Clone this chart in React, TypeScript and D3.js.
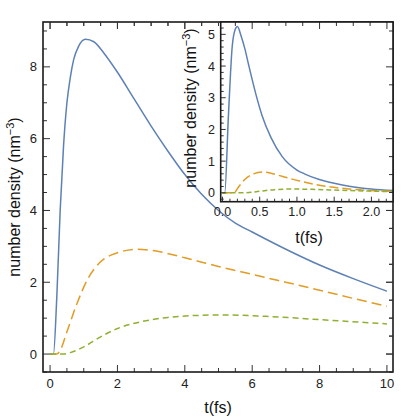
import React from "react";
import * as d3 from "d3";

// Main plot data
const mainBlueX = [0, 0.1, 0.2, 0.3, 0.4, 0.5, 0.6, 0.7, 0.85, 1.05, 1.3, 1.6, 2, 2.5, 3, 3.5, 4, 4.5, 5, 5.5, 6, 7, 8, 9, 10];
const mainBlueY = [0, 0, 1.6, 4.0, 5.8, 7.0, 7.7, 8.2, 8.58, 8.77, 8.7, 8.38, 7.85, 7.1, 6.35, 5.65, 5.0, 4.45, 4.0, 3.65, 3.4, 2.92, 2.48, 2.1, 1.75];
const mainOrangeX = [0, 0.2, 0.3, 0.5, 0.8, 1.1, 1.5, 2, 2.6, 3.3, 4, 4.5, 5, 6, 7, 8, 9, 10];
const mainOrangeY = [0, 0, 0.1, 0.62, 1.41, 2.06, 2.57, 2.82, 2.92, 2.84, 2.68, 2.56, 2.44, 2.22, 2.0, 1.78, 1.55, 1.33];
const mainGreenX = [0, 0.4, 0.6, 1, 1.5, 2, 2.7, 3.5, 4.5, 5.2, 6.4, 8, 10];
const mainGreenY = [0, 0, 0.04, 0.2, 0.48, 0.71, 0.9, 1.02, 1.08, 1.09, 1.05, 0.96, 0.84];

// Inset data
const insetBlueX = [0, 0.03, 0.08, 0.13, 0.17, 0.2, 0.25, 0.3, 0.35, 0.45, 0.53, 0.65, 0.8, 1.0, 1.1, 1.3, 1.5, 1.7, 2.0, 2.4];
const insetBlueY = [0, 0, 2.45, 4.6, 5.15, 5.25, 4.95, 4.55, 4.05, 3.1, 2.45, 1.75, 1.15, 0.72, 0.6, 0.42, 0.3, 0.21, 0.12, 0.06];
const insetOrangeX = [0, 0.15, 0.22, 0.3, 0.4, 0.53, 0.65, 0.8, 1.04, 1.3, 1.7, 2.4];
const insetOrangeY = [0, 0, 0.2, 0.42, 0.58, 0.66, 0.62, 0.52, 0.37, 0.24, 0.12, 0.04];
const insetGreenX = [0, 0.3, 0.5, 0.7, 0.9, 1.2, 1.6, 2.4];
const insetGreenY = [0, 0, 0.05, 0.1, 0.12, 0.11, 0.08, 0.03];

const mainXTicks = [0, 2, 4, 6, 8, 10];
const mainYTicks = [0, 2, 4, 6, 8];
const insetXTicks = [0, 0.5, 1, 1.5, 2];
const insetYTicks = [0, 1, 2, 3, 4, 5];

const BLUE = "#5E81B5";
const ORANGE = "#E19C24";
const GREEN = "#8FB032";
const FONT = "Liberation Sans, Arial, sans-serif";

const zip = (xs: number[], ys: number[]) => xs.map((x, i) => [x, ys[i]] as [number, number]);
const range = (a: number, b: number, s: number) => {
  const r: number[] = [];
  for (let v = a; v <= b + 1e-9; v += s) r.push(Math.round(v * 1000) / 1000);
  return r;
};

export default function App() {
  // main frame
  const L = 43, R = 393, T = 22, B = 372;
  const x = d3.scaleLinear().domain([-0.21, 10.18]).range([L, R]);
  const y = d3.scaleLinear().domain([-0.5, 9.25]).range([B, T]);
  // inset frame
  const iL = 220.7, iR = 393, iT = 22, iB = 201.7;
  const ix = d3.scaleLinear().domain([-0.024, 2.29]).range([iL, iR]);
  const iy = d3.scaleLinear().domain([-0.28, 5.39]).range([iB, iT]);

  const line = (sx: any, sy: any) =>
    d3.line<[number, number]>().x((d) => sx(d[0])).y((d) => sy(d[1])).curve(d3.curveMonotoneX);
  const ml = line(x, y);
  const il = line(ix, iy);

  const mainMinorX = range(0, 10, 0.5).filter((v) => !mainXTicks.includes(v));
  const mainMinorY = range(-0.5, 9, 0.5).filter((v) => !mainYTicks.includes(v));
  const insetMinorX = range(0, 2.2, 0.1).filter((v) => !insetXTicks.includes(v));
  const insetMinorY = range(-0.2, 5.2, 0.2).filter((v) => !insetYTicks.includes(v));

  const axisColor = "#1a1a1a";
  const tickColor = "#333";

  return (
    <svg width={417} height={417} style={{ position: "absolute", left: 0, top: 0 }} fontFamily={FONT}>
      <rect x={0} y={0} width={417} height={417} fill="white" />
      <defs>
        <clipPath id="mainClip">
          <rect x={L} y={T} width={R - L} height={B - T} />
        </clipPath>
        <clipPath id="insetClip">
          <rect x={iL} y={iT} width={iR - iL} height={iB - iT} />
        </clipPath>
      </defs>

      {/* main curves */}
      <g clipPath="url(#mainClip)" fill="none" strokeWidth={1.5}>
        <path d={ml(zip(mainBlueX, mainBlueY)) || ""} stroke={BLUE} />
        <path d={ml(zip(mainOrangeX, mainOrangeY)) || ""} stroke={ORANGE} strokeDasharray="10,5" />
        <path d={ml(zip(mainGreenX, mainGreenY)) || ""} stroke={GREEN} strokeDasharray="6,4" />
      </g>

      {/* main ticks */}
      <g stroke={tickColor} strokeWidth={1}>
        {mainXTicks.map((t) => (
          <g key={"mx" + t}>
            <line x1={x(t)} x2={x(t)} y1={B} y2={B - 7} />
            <line x1={x(t)} x2={x(t)} y1={T} y2={T + 7} />
          </g>
        ))}
        {mainMinorX.map((t) => (
          <g key={"mmx" + t}>
            <line x1={x(t)} x2={x(t)} y1={B} y2={B - 4} />
            <line x1={x(t)} x2={x(t)} y1={T} y2={T + 4} />
          </g>
        ))}
        {mainYTicks.map((t) => (
          <g key={"my" + t}>
            <line x1={L} x2={L + 7} y1={y(t)} y2={y(t)} />
            <line x1={R} x2={R - 7} y1={y(t)} y2={y(t)} />
          </g>
        ))}
        {mainMinorY.map((t) => (
          <g key={"mmy" + t}>
            <line x1={L} x2={L + 4} y1={y(t)} y2={y(t)} />
            <line x1={R} x2={R - 4} y1={y(t)} y2={y(t)} />
          </g>
        ))}
      </g>
      <rect x={L} y={T} width={R - L} height={B - T} fill="none" stroke={axisColor} strokeWidth={1.6} />

      {/* main tick labels */}
      <g fontSize={13} fill="#222">
        {mainXTicks.map((t) => (
          <text key={"mxl" + t} x={x(t)} y={388} textAnchor="middle">
            {t}
          </text>
        ))}
        {mainYTicks.map((t) => (
          <text key={"myl" + t} x={37} y={y(t) + 4.5} textAnchor="end">
            {t}
          </text>
        ))}
      </g>

      {/* main axis titles */}
      <text x={218} y={413} fontSize={16} textAnchor="middle" fill="#111">
        t(fs)
      </text>
      <text transform="translate(20,197) rotate(-90)" fontSize={16} textAnchor="middle" fill="#111">
        number density (nm<tspan dy={-6} fontSize={11}>−3</tspan>
        <tspan dy={6}>)</tspan>
      </text>

      {/* inset */}
      <rect x={iL} y={iT} width={iR - iL} height={iB - iT} fill="white" />
      <g clipPath="url(#insetClip)" fill="none" strokeWidth={1.5}>
        <path d={il(zip(insetBlueX, insetBlueY)) || ""} stroke={BLUE} />
        <path d={il(zip(insetOrangeX, insetOrangeY)) || ""} stroke={ORANGE} strokeDasharray="9,4" />
        <path d={il(zip(insetGreenX, insetGreenY)) || ""} stroke={GREEN} strokeDasharray="5,3" />
      </g>
      <g stroke={tickColor} strokeWidth={1}>
        {insetXTicks.map((t) => (
          <line key={"ix" + t} x1={ix(t)} x2={ix(t)} y1={iB} y2={iB - 5} />
        ))}
        {insetMinorX.map((t) => (
          <line key={"imx" + t} x1={ix(t)} x2={ix(t)} y1={iB} y2={iB - 3} />
        ))}
        {insetYTicks.map((t) => (
          <line key={"iy" + t} x1={iL} x2={iL + 5} y1={iy(t)} y2={iy(t)} />
        ))}
        {insetMinorY.map((t) => (
          <line key={"imy" + t} x1={iL} x2={iL + 3} y1={iy(t)} y2={iy(t)} />
        ))}
        {/* right ticks of main y continue on shared frame */}
        {mainYTicks.map((t) => (
          <line key={"ry" + t} x1={R} x2={R - 7} y1={y(t)} y2={y(t)} />
        ))}
        {mainMinorY.map((t) => (
          <line key={"rmy" + t} x1={R} x2={R - 4} y1={y(t)} y2={y(t)} />
        ))}
        {mainXTicks.map((t) => (
          <line key={"tx" + t} x1={x(t)} x2={x(t)} y1={T} y2={T + 7} />
        ))}
        {mainMinorX.map((t) => (
          <line key={"tmx" + t} x1={x(t)} x2={x(t)} y1={T} y2={T + 4} />
        ))}
      </g>
      <rect x={iL} y={iT} width={iR - iL} height={iB - iT} fill="none" stroke={axisColor} strokeWidth={1.6} />
      <g fontSize={12.5} fill="#222">
        {insetXTicks.map((t) => (
          <text key={"ixl" + t} x={ix(t)} y={216} textAnchor="middle">
            {d3.format(".1f")(t)}
          </text>
        ))}
        {insetYTicks.map((t) => (
          <text key={"iyl" + t} x={215} y={iy(t) + 4.5} textAnchor="end">
            {t}
          </text>
        ))}
      </g>
      <text x={309} y={243} fontSize={16} textAnchor="middle" fill="#111">
        t(fs)
      </text>
      <text transform="translate(196,108) rotate(-90)" fontSize={16} textAnchor="middle" fill="#111">
        number density (nm<tspan dy={-6} fontSize={11}>−3</tspan>
        <tspan dy={6}>)</tspan>
      </text>
    </svg>
  );
}
